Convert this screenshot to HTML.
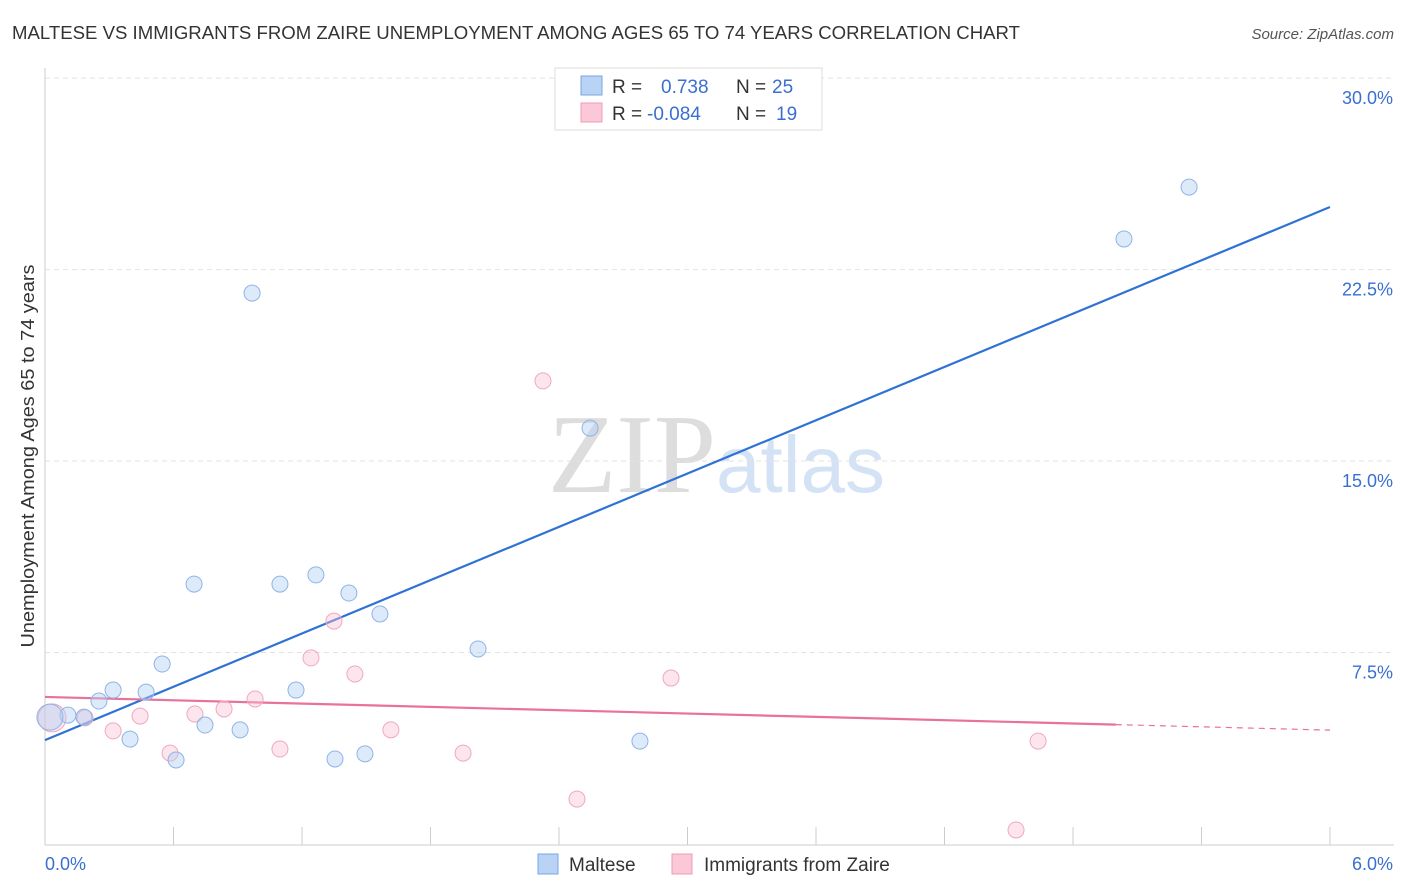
<!DOCTYPE html>
<html><head><meta charset="utf-8"><style>
body{margin:0;background:#fff;font-family:"Liberation Sans",sans-serif;}
svg{display:block}
</style></head><body>
<svg id="c" width="1406" height="892" xmlns="http://www.w3.org/2000/svg">
<text x="12" y="39" font-size="18" fill="#333" textLength="1008" lengthAdjust="spacingAndGlyphs">MALTESE VS IMMIGRANTS FROM ZAIRE UNEMPLOYMENT AMONG AGES 65 TO 74 YEARS CORRELATION CHART</text>
<text x="1394" y="39" font-size="15" fill="#555" font-style="italic" text-anchor="end">Source: ZipAtlas.com</text>
<text x="34" y="456" font-size="18" fill="#333" text-anchor="middle" textLength="383" lengthAdjust="spacingAndGlyphs" transform="rotate(-90 34 456)">Unemployment Among Ages 65 to 74 years</text>
<text x="716" y="492" font-size="112" fill="#ddd" text-anchor="end" font-family="Liberation Serif,serif">ZIP</text>
<text x="716" y="492" font-size="80" fill="#d3e2f5">atlas</text>
<g id="grid"></g><g id="trends"></g><g id="pts"></g>
<g>
<rect x="555" y="68" width="267" height="62" fill="#fff" stroke="#ddd"/>
<rect x="581" y="76" width="21" height="19" fill="#b9d3f5" stroke="#7aa6e0"/>
<rect x="581" y="103" width="21" height="19" fill="#fbc8d8" stroke="#f09ab5"/>
<text x="612" y="93" font-size="19" fill="#333">R = <tspan fill="#3a6fd0" x="661">0.738</tspan><tspan fill="#333" x="736">N = </tspan><tspan fill="#3a6fd0" x="772">25</tspan></text>
<text x="612" y="120" font-size="19" fill="#333">R = <tspan fill="#3a6fd0" x="647">-0.084</tspan><tspan fill="#333" x="736">N = </tspan><tspan fill="#3a6fd0" x="776">19</tspan></text>
</g>
<g>
<rect x="538" y="854" width="20" height="20" fill="#b9d3f5" stroke="#7aa6e0"/>
<text x="569" y="871" font-size="19" fill="#333">Maltese</text>
<rect x="672" y="854" width="20" height="20" fill="#fbc8d8" stroke="#f09ab5"/>
<text x="704" y="871" font-size="19" fill="#333">Immigrants from Zaire</text>
</g>
</svg>
<script>
const yTicks=[7.5,15,22.5,30];
const yTickLabels=["7.5%","15.0%","22.5%","30.0%"];
const xTickCount=10;
const xLabels=["0.0%","6.0%"];
const malteseX=[0.107,0.182,0.252,0.318,0.397,0.472,0.547,0.612,0.696,0.747,0.911,0.967,1.097,1.172,1.265,1.354,1.419,1.494,1.564,2.022,2.545,2.778,5.038,5.342,0.023];
const malteseY=[5.05,4.97,5.60,6.03,4.11,5.95,7.05,3.29,10.18,4.66,4.47,21.58,10.18,6.03,10.54,3.33,9.83,3.53,9.01,7.64,16.29,4.03,23.70,25.73,4.97];
const zaireX=[0.033,0.187,0.318,0.444,0.584,0.700,0.836,0.981,1.097,1.242,1.349,1.447,1.615,1.952,2.325,2.484,2.923,4.534,4.637];
const zaireY=[4.94,4.94,4.43,5.01,3.56,5.09,5.29,5.68,3.72,7.29,8.73,6.66,4.47,3.56,18.14,1.76,6.50,0.55,4.03];
const malteseTrend=[4.07,24.95];
const zaireTrend=[5.76,4.46];
const X=v=>45+v/6*1285, Y=v=>844-v*25.53;
const NS="http://www.w3.org/2000/svg";
function mk(t,a,p){const e=document.createElementNS(NS,t);for(const k in a)e.setAttribute(k,a[k]);p.appendChild(e);return e;}
const g=document.getElementById('grid');
yTicks.forEach((v,i)=>{
 const l=mk('line',{x1:45,x2:1394,y1:Y(v),y2:Y(v),stroke:'#e2e2e2','stroke-dasharray':'5,4'},g);
 
 
 const t=mk('text',{x:1393,y:Y(v)+26,'font-size':18,fill:'#3a6fd0','text-anchor':'end'},g);t.textContent=yTickLabels[i];
 
 
});
let ax=mk('line',{x1:45,x2:45,y1:68,y2:845,stroke:'#ccc'},g);


let bx=mk('line',{x1:45,x2:1394,y1:845,y2:845,stroke:'#ccc'},g);


for(let i=0;i<=xTickCount;i++){const x=X(6*i/xTickCount);const t=mk('line',{x1:x,x2:x,y1:827,y2:845,stroke:'#ccc'},g);
 
 }
[[0,45,'start'],[1,1393,'end']].forEach(([i,x,a])=>{const t=mk('text',{x:x,y:870,'font-size':18,fill:'#3a6fd0','text-anchor':a},g);t.textContent=xLabels[i];
 
 });
const tr=document.getElementById('trends');
let b=mk('line',{x1:X(0),y1:Y(malteseTrend[0]),x2:X(6),y2:Y(malteseTrend[1]),stroke:'#2f72d6','stroke-width':2.2},tr);


const zy=x=>zaireTrend[0]+(zaireTrend[1]-zaireTrend[0])*x/6;
let p1=mk('line',{x1:X(0),y1:Y(zy(0)),x2:X(5),y2:Y(zy(5)),stroke:'#e8729a','stroke-width':2.2},tr);


let p2=mk('line',{x1:X(5),y1:Y(zy(5)),x2:X(6),y2:Y(zy(6)),stroke:'#e8729a','stroke-width':1.2,'stroke-dasharray':'6,5'},tr);


const pg=document.getElementById('pts');
zaireX.forEach((x,i)=>{const c=mk('circle',{cx:X(x),cy:Y(zaireY[i]),r:i==0?14:8,fill:'rgba(248,190,210,0.4)',stroke:'#f0a8c0','stroke-width':1},pg);
 
 });
malteseX.forEach((x,i)=>{const c=mk('circle',{cx:X(x),cy:Y(malteseY[i]),r:i==24?13:8,fill:'rgba(180,208,242,0.45)',stroke:'#8fb4e8','stroke-width':1},pg);
 
 });
</script>
</body></html>
